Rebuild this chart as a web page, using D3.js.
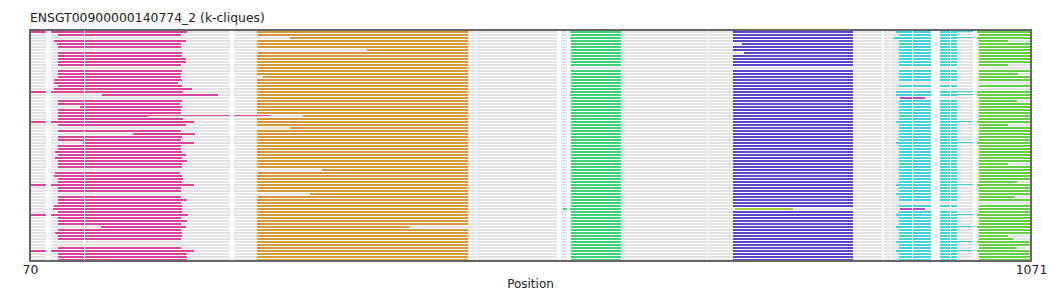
<!DOCTYPE html>
<html>
<head>
<meta charset="utf-8">
<script src="https://cdn.jsdelivr.net/npm/d3@7"></script>
<style>
  html, body { margin: 0; padding: 0; background: #fff; }
  svg { display: block; }
  text { font-family: "DejaVu Sans", sans-serif; }
</style>
</head>
<body>
<div id="chart"></div>
<script>
// ---------- data (positions in sequence coordinates) ----------
const title = "ENSGT00900000140774_2 (k-cliques)";
const xLabel = "Position";
const xDomain = [70, 1071];
const tickValues = [70, 1071];
const rowCount = 77;

const grayStart = Array.from({length: 77}, () => 70);
const grayEnd   = Array.from({length: 77}, () => 1071);

const pinkStart = [70,98,null,94,97,98,null,98,98,98,
  98,98,null,98,98,98,94,94,98,94,
  70,142,null,98,98,120,98,98,98,98,
  70,98,null,98,173,98,98,123,98,98,
  95,98,95,98,98,98,null,95,94,98,
  98,70,98,98,null,98,98,98,94,93,
  98,70,98,98,98,141,98,95,98,98,
  null,null,98,70,98,98,98];
const pinkEnd = [227,221,null,226,221,221,null,222,222,226,
  226,221,null,222,221,221,222,218,222,232,
  223,258,null,222,220,222,221,221,188,223,
  234,226,null,221,235,222,221,234,221,221,
  222,226,222,227,222,222,null,220,222,223,
  222,234,221,221,null,221,227,221,222,222,
  222,228,221,227,221,226,221,222,222,221,
  null,null,221,234,227,227,227];
const pinkTails = [[28, 188, 310]];

const orangeStart = [297,297,330,297,297,297,407,297,297,297,
  297,297,297,297,297,303,297,297,297,297,
  297,297,297,297,297,297,297,297,343,297,
  297,297,330,297,297,297,297,297,297,297,
  297,297,297,297,297,297,362,297,297,297,
  297,297,297,297,350,297,297,297,297,297,
  297,297,297,297,297,297,297,297,297,297,
  297,297,297,297,297,297,297];
const orangeEnd = [508,508,508,508,508,508,508,508,508,508,
  508,508,508,508,508,508,508,508,508,508,
  508,508,508,508,508,508,508,508,508,508,
  508,508,508,508,508,508,508,508,508,508,
  508,508,508,508,508,508,508,508,508,508,
  508,508,508,508,508,508,508,508,508,508,
  508,508,508,508,508,450,508,508,508,508,
  508,508,508,508,508,508,508];

const greenStart = [609,611,609,611,611,611,611,611,611,611,
  611,611,null,611,611,611,611,611,611,611,
  609,609,611,611,611,611,611,611,611,611,
  611,611,611,611,611,611,611,611,611,611,
  611,611,611,611,611,611,611,611,611,611,
  611,611,611,611,611,611,611,611,611,603,
  611,611,611,611,611,611,611,611,611,611,
  611,611,611,611,611,611,611];
const greenEnd = [661,661,661,661,661,661,661,661,661,661,
  661,661,null,661,661,661,661,661,661,661,
  661,661,661,661,661,661,661,661,661,661,
  661,661,661,661,661,661,661,661,661,661,
  661,661,661,661,661,661,661,661,661,661,
  661,661,661,661,661,661,661,661,661,661,
  661,661,661,661,661,661,661,661,661,661,
  661,661,661,661,661,661,661];

const purpleStart = [773,773,773,773,782,773,773,784,773,773,
  773,773,null,773,773,773,773,773,773,773,
  773,773,773,773,773,773,773,773,773,773,
  773,773,773,773,773,773,773,773,773,773,
  773,773,773,773,773,773,773,773,773,773,
  773,773,773,773,773,773,773,773,773,null,
  773,773,773,773,773,773,773,773,773,773,
  773,773,773,773,773,773,773];
const purpleEnd = [893,893,893,893,893,893,893,893,893,893,
  893,893,null,893,893,893,893,893,893,893,
  893,893,893,893,893,893,893,893,893,893,
  893,893,893,893,893,893,893,893,893,893,
  893,893,893,893,893,893,893,893,893,893,
  893,893,893,893,893,893,893,893,893,null,
  893,893,893,893,893,893,893,893,893,893,
  893,893,893,893,893,893,893];
const oliveSegs = [[59, 775, 833]];

const cyanStart = [936,939,934,939,939,939,939,939,939,939,
  939,939,null,939,939,939,939,null,939,null,
  936,936,null,939,939,939,939,939,939,939,
  936,939,939,939,939,939,939,936,939,939,
  939,939,939,939,939,939,939,939,939,939,
  939,936,939,939,936,939,939,null,939,null,
  939,936,939,939,939,936,939,939,939,939,
  936,939,939,936,939,939,939];
const cyanEnd = [997,997,997,997,997,997,997,997,997,997,
  997,997,null,997,997,997,997,null,997,null,
  997,997,null,997,997,997,997,997,997,997,
  997,997,997,997,997,997,997,997,997,997,
  997,997,997,997,997,997,997,997,997,997,
  997,997,997,997,997,997,997,null,997,null,
  997,997,997,997,997,997,997,997,997,997,
  997,997,997,997,997,997,997];
const cyanTails = [[0,997,1013],[2,997,1013],[20,997,1013],[21,997,1013],
  [30,997,1013],[37,997,1013],[51,997,1013],[61,997,1013],[65,997,1013],
  [70,997,1013],[73,997,1013]];
const magentaSegs = [[22, 940, 965], [59, 940, 965]];

const limeStart = [1017,1019,1017,1019,1019,1019,1019,1019,1019,1019,
  1019,1019,null,1019,1019,1019,1019,null,1019,null,
  1017,1017,1019,1019,1019,1019,1019,1019,1019,1019,
  1017,1019,1019,1019,1019,1019,1019,1017,1019,1019,
  1019,1019,1019,1019,1019,1019,1019,1019,1019,1019,
  1019,1017,1019,1019,1019,1019,1019,null,1019,1019,
  1019,1017,1019,1019,1019,1017,1019,1019,1019,1019,
  1017,1019,1019,1017,1019,1019,1019];
const limeEnd = [1071,1071,1071,1048,1071,1071,1071,1071,1071,1071,
  1071,1048,null,1071,1058,1071,1071,null,1071,null,
  1071,1071,1071,1057,1071,1071,1071,1071,1071,1071,
  1071,1048,1071,1071,1071,1071,1071,1071,1071,1071,
  1071,1071,1071,1071,1048,1071,1071,1071,1071,1071,
  1057,1071,1071,1071,1071,1055,1071,null,1071,1071,
  1071,1071,1071,1071,1071,1071,1071,1071,1048,1053,
  1071,1071,1057,1071,1071,1071,1071];

const gapCols = [[86,91],[124,125],[270,274],[516,517],[597,601],[607,610],
  [747,748],[922,924],[930,931],[952,953],[971,980],[990,991],[1013,1017]];

// ---------- layout ----------
const W = 1061, H = 291;
const plot = {left: 30, right: 1031, top: 30, bottom: 261};

const svg = d3.select("#chart").append("svg").attr("width", W).attr("height", H);

const x = d3.scaleLinear().domain(xDomain).range([plot.left, plot.right]);
const y = d3.scaleBand().domain(d3.range(rowCount)).range([plot.top, plot.bottom]).padding(0);

function segsFrom(starts, ends) {
  const out = [];
  starts.forEach((s, i) => { if (s != null && ends[i] != null) out.push([i, s, ends[i]]); });
  return out;
}

function drawSegs(data, color, thick) {
  const h = thick ? 2 : 1;
  svg.append("g").selectAll("rect").data(data).join("rect")
    .attr("x", d => x(d[1]))
    .attr("width", d => Math.max(0, x(d[2]) - x(d[1])))
    .attr("y", d => y(d[0]) + 1)
    .attr("height", h)
    .attr("fill", color)
    .attr("shape-rendering", "crispEdges");
}

drawSegs(segsFrom(grayStart, grayEnd), "#e2e2e2", true);
drawSegs(segsFrom(pinkStart, pinkEnd), "#d6449b", true);
drawSegs(pinkTails, "#d6449b", false);
drawSegs(segsFrom(orangeStart, orangeEnd), "#d4993f", true);
drawSegs(segsFrom(greenStart, greenEnd), "#40d07a", true);
drawSegs(segsFrom(purpleStart, purpleEnd), "#5a46c8", true);
drawSegs(oliveSegs, "#a6c83c", true);
drawSegs(segsFrom(cyanStart, cyanEnd), "#45d2d2", true);
drawSegs(cyanTails, "#45d2d2", false);
drawSegs(magentaSegs, "#b848c8", true);
drawSegs(segsFrom(limeStart, limeEnd), "#66cc44", true);

// white gap columns
svg.append("g").selectAll("rect").data(gapCols).join("rect")
  .attr("x", d => x(d[0]))
  .attr("width", d => x(d[1]) - x(d[0]))
  .attr("y", plot.top)
  .attr("height", plot.bottom - plot.top)
  .attr("fill", "#fff")
  .attr("shape-rendering", "crispEdges");

// frame
svg.append("rect")
  .attr("x", plot.left).attr("y", plot.top)
  .attr("width", plot.right - plot.left).attr("height", plot.bottom - plot.top)
  .attr("fill", "none").attr("stroke", "#666").attr("stroke-width", 2);

// axis
const axis = svg.append("g")
  .attr("transform", `translate(0,${plot.bottom})`)
  .call(d3.axisBottom(x).tickValues(tickValues).tickSize(0).tickPadding(4).tickFormat(d3.format("d")));
axis.select(".domain").remove();
axis.selectAll("text").attr("font-family", "DejaVu Sans").attr("font-size", 12.4).attr("fill", "#222");

// title and label
svg.append("text").attr("x", plot.left).attr("y", 22)
  .attr("font-size", 12.4).attr("fill", "#222").text(title);
svg.append("text").attr("x", (plot.left + plot.right) / 2).attr("y", 288)
  .attr("text-anchor", "middle").attr("font-size", 12).attr("fill", "#222").text(xLabel);
</script>
</body>
</html>
